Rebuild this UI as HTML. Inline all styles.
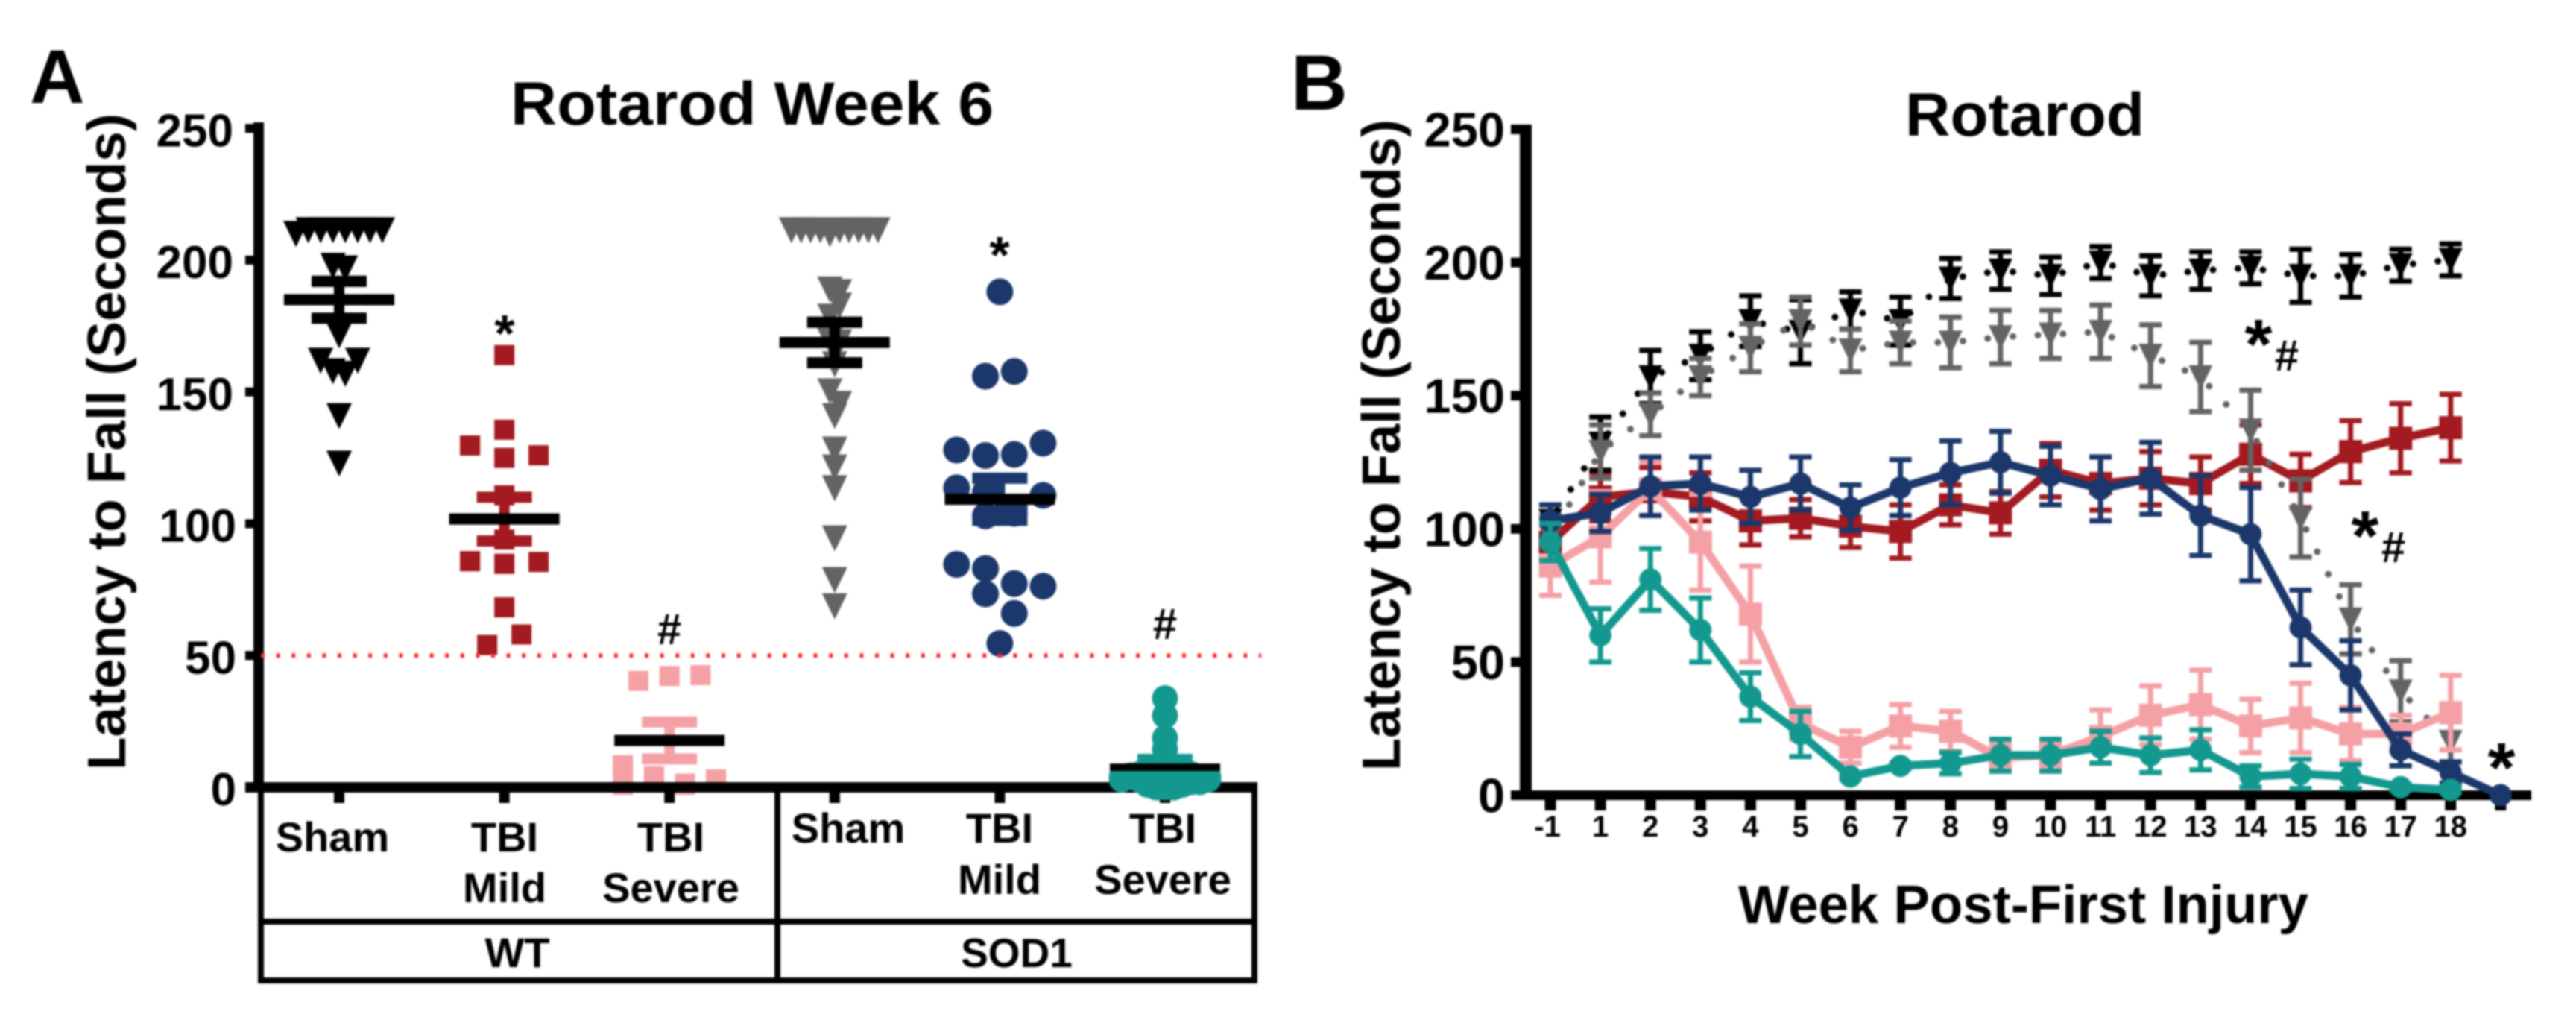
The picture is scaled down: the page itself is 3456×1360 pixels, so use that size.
<!DOCTYPE html>
<html lang="en">
<head>
<meta charset="utf-8">
<title>Rotarod charts</title>
<style>
html,body{margin:0;padding:0;background:#fff;width:3456px;height:1360px;overflow:hidden}
svg{display:block;filter:blur(1.3px)}
text{font-family:"Liberation Sans",Arial,sans-serif;font-weight:700;fill:#000}
</style>
</head>
<body>
<svg id="figure" xmlns="http://www.w3.org/2000/svg" width="3456" height="1360" viewBox="0 0 3456 1360">
  <rect x="0" y="0" width="3456" height="1360" fill="#fff"/>

  <text x="40" y="138" font-size="102">A</text>
  <text x="1732" y="147" font-size="105">B</text>

  <text x="685" y="167" font-size="82" textLength="648" lengthAdjust="spacingAndGlyphs">Rotarod Week 6</text>
  <text x="2556" y="182" font-size="82" textLength="321" lengthAdjust="spacingAndGlyphs">Rotarod</text>

  <text transform="translate(168 592.5) rotate(-90)" text-anchor="middle" font-size="72" textLength="881" lengthAdjust="spacingAndGlyphs">Latency to Fall (Seconds)</text>
  <text transform="translate(1878 597) rotate(-90)" text-anchor="middle" font-size="72" textLength="874" lengthAdjust="spacingAndGlyphs">Latency to Fall (Seconds)</text>
  <text x="2332" y="1238" font-size="72" textLength="765" lengthAdjust="spacingAndGlyphs">Week Post-First Injury</text>

  <g id="chartA"></g>

  <g id="tableA" stroke="#000" stroke-width="8" fill="none">
    <line x1="350" y1="1056" x2="350" y2="1315"/>
    <line x1="1043" y1="1056" x2="1043" y2="1315"/>
    <line x1="1683" y1="1056" x2="1683" y2="1315"/>
    <line x1="346" y1="1236" x2="1687" y2="1236"/>
    <line x1="346" y1="1315" x2="1687" y2="1315"/>
  </g>
  <g font-size="56" text-anchor="middle">
    <text x="446" y="1142" font-size="56" text-anchor="middle">Sham</text>
    <text x="677" y="1142" font-size="56" text-anchor="middle">TBI</text>
    <text x="677" y="1210" font-size="56" text-anchor="middle">Mild</text>
    <text x="900" y="1142" font-size="56" text-anchor="middle">TBI</text>
    <text x="900" y="1210" font-size="56" text-anchor="middle">Severe</text>
    <text x="1138" y="1130" font-size="56" text-anchor="middle">Sham</text>
    <text x="1341" y="1130" font-size="56" text-anchor="middle">TBI</text>
    <text x="1341" y="1199" font-size="56" text-anchor="middle">Mild</text>
    <text x="1560" y="1130" font-size="56" text-anchor="middle">TBI</text>
    <text x="1560" y="1199" font-size="56" text-anchor="middle">Severe</text>
    <text x="694" y="1297" font-size="56" text-anchor="middle">WT</text>
    <text x="1364" y="1297" font-size="55" text-anchor="middle">SOD1</text>
  </g>

  <g id="chartB"></g>

  <g text-anchor="middle">
    <text x="677" y="471" font-size="70" text-anchor="middle">*</text>
    <text x="1341" y="366" font-size="70" text-anchor="middle">*</text>
    <text x="898" y="864" font-size="58" text-anchor="middle">#</text>
    <text x="1563" y="857" font-size="58" text-anchor="middle">#</text>
    <text x="3030" y="494" font-size="95" text-anchor="middle">*</text>
    <text x="3068" y="497" font-size="58" text-anchor="middle">#</text>
    <text x="3173" y="751" font-size="95" text-anchor="middle">*</text>
    <text x="3211" y="754" font-size="58" text-anchor="middle">#</text>
    <text x="3356" y="1062" font-size="95" text-anchor="middle">*</text>
  </g>
</svg>

<script>
/* ---------- Panel A data (seconds); each inner array is one swarm row ---------- */
const yTicksA = [0, 50, 100, 150, 200, 250];
const thresholdA = 50;
const wtShamRows = [
  [210.1, 211.5, 211.5, 211.5, 211.5, 211.5, 211.5, 211.5],
  [198, 197], [171.6], [162, 162, 158, 157], [141], [123]
];
const wtMildRows = [
  [164], [135.7], [129.7, 126, 125], [110.8], [94],
  [85.8, 85.5, 84.8], [68.3], [54, 58]
];
const wtSevereRows = [
  [40.4, 42.6, 42.2], [8.4, 2.8, 4.2, 1.4], [1, 3, 3, 1]
];
const sodShamRows = [
  [211.5, 211.5, 211.5, 211.5, 211.5, 211.5, 211.5, 211.5, 210.1, 211.5],
  [189, 188], [178.7, 183], [169.5, 169], [160.6], [150.4, 145.6], [141],
  [128.3], [121.5], [113.6], [94.6], [78.8], [68.8]
];
const sodMildRows = [
  [188], [156, 157.8], [128, 130.6, 125.9, 126.3],
  [113.6, 110.8, 112, 106], [103, 104],
  [84.6, 76.3, 83, 77.3], [73.4, 66], [54.6]
];
const sodSevereRows = [
  [33.8], [27.2], [18.7], [14.5], [11],
  [3, 3, 4.5, 2, 3, 2, 1, 1, 0, 0, 0],
  [4, 4, 4, 4, 5, 5, 5, 5, 5, 5, 5]
];
const groupMeans = [185, 101.8, 17.8, 168.8, 109.3, 7.6];
const groupSems = [7, 8.3, 7, 7.7, 8, 3];

/* ---------- Panel B data (seconds) ---------- */
const weekLabels = ['-1','1','2','3','4','5','6','7','8','9','10','11','12','13','14','15','16','17','18',''];
const yTicksB = [0, 50, 100, 150, 200, 250];
const wtShamMean = [103,132,157,165,178,174,182,178,194,197,195,200,195,197,198,195,195,199,201];
const wtShamErr = [6,10,10,9,9.5,12,7,9,7.5,7,7,6,7.5,7,6,10,8,6,6];
const sodShamMean = [97,129,143,157,168,178,167,170,170,172,173,174,165,157,137,104,66,39,20];
const sodShamErr = [8,10,8,7,9,9,8,8,9.5,10,9,10,11.6,13,15,14.6,13,11.5,7.6];
const wtMildMean = [95,112,114,112,103,104,101,99,109,106,122,117,119,117,128,118,129,134,138];
const wtMildErr = [9,9,9,9,9,7,8,10,7.5,8,10,10,10,10,11,10,11.6,13,12.5];
const wtSevereMean = [86,97,115,95,68,27,18,26,24,14,15,22,30,34,26,29,23,23,31];
const wtSevereErr = [11,17,10,18,18,6,6,8,7.5,5,5,10,11,13,10,13,10,7,14];
const sodMildMean = [103,106,116,117,112,117,108,115.5,121,125,120,115,119,105,98,63,45,17,8.5,0];
const sodMildErr = [6,7,11,10,10,10,8.5,10.5,12,11.6,11,12,13.5,15,17.5,14,13,6,4,0];
const sodSevereMean = [95,60,81,62,37,23,7,11,12,15,15,18,15,17,7,8,7,3,2];
const sodSevereErr = [7,10,11.6,12,9,8.5,1,1,4,6,6,6,6.5,7.5,4,5.5,4.5,1,1];

/* ---------- helpers ---------- */
const NS = 'http://www.w3.org/2000/svg';
const COLORS = {black:'#000000', gray:'#636363', red:'#a31a20', pink:'#f5a0a5', navy:'#1b376b', teal:'#13988f'};

function add(parent, tag, attrs, name) {
  const el = document.createElementNS(NS, tag);
  for (const k in attrs) el.setAttribute(k, attrs[k]);
  
  
  parent.appendChild(el);
  return el;
}
function marker(parent, shape, cx, cy, size, color, name) {
  if (shape === 'circle') {
    return add(parent, 'circle', {cx: cx, cy: cy, r: size / 2, fill: color}, name);
  }
  if (shape === 'square') {
    return add(parent, 'rect', {x: cx - size / 2, y: cy - size / 2, width: size, height: size, fill: color}, name);
  }
  const h = size / 2;
  const pts = (cx - h) + ',' + (cy - h) + ' ' + (cx + h) + ',' + (cy - h) + ' ' + cx + ',' + (cy + h * 1.06);
  return add(parent, 'polygon', {points: pts, fill: color}, name);
}
function hline(parent, x1, x2, y, w, color, name) {
  return add(parent, 'line', {x1: x1, x2: x2, y1: y, y2: y, stroke: color, 'stroke-width': w}, name);
}
function vline(parent, x, y1, y2, w, color, name) {
  return add(parent, 'line', {x1: x, x2: x, y1: y1, y2: y2, stroke: color, 'stroke-width': w}, name);
}

/* ---------- Panel A ---------- */
const yA = v => 1056 - 3.535 * v;
const xA = i => 455 + 221.6 * i;
const chartA = document.getElementById('chartA');

const groupsA = [
  {key:'wt-sham', rows:wtShamRows, shape:'tri', size:34, color:COLORS.black, err:COLORS.black, spread:116},
  {key:'wt-mild', rows:wtMildRows, shape:'square', size:27, color:COLORS.red, err:COLORS.red, spread:116},
  {key:'wt-severe', rows:wtSevereRows, shape:'square', size:27, color:COLORS.pink, err:COLORS.pink, spread:125},
  {key:'sod1-sham', rows:sodShamRows, shape:'tri', size:34, color:COLORS.gray, err:COLORS.black, spread:116},
  {key:'sod1-mild', rows:sodMildRows, shape:'circle', size:36, color:COLORS.navy, err:COLORS.navy, spread:116},
  {key:'sod1-severe', rows:sodSevereRows, shape:'circle', size:35, color:COLORS.teal, err:COLORS.teal, spread:116}
];

function drawSwarm(group, index) {
  const g = add(chartA, 'g', {}, group.key + '-points');
  const longest = Math.max(...group.rows.map(r => r.length));
  const step = longest > 1 ? Math.min(46, group.spread / (longest - 1)) : 0;
  group.rows.forEach(row => {
    const n = row.length;
    row.forEach((v, k) => {
      const rank = Math.floor(k / 2);
      let off = 0;
      if (!(n % 2 === 1 && k === n - 1)) {
        off = ((n - 1) / 2 - rank) * step * (k % 2 === 0 ? -1 : 1);
      }
      marker(g, group.shape, xA(index) + off, yA(v), group.size, group.color, group.key + '-point');
    });
  });
}

/* pink squares sit beneath the axis */
drawSwarm(groupsA[2], 2);

/* axes */
const axisA = add(chartA, 'g', {}, 'chart-a-axes');
vline(axisA, 347, 164, 1063, 14, '#000', 'chart-a-y-axis-line');
hline(axisA, 329, 1687, 1056, 14, '#000', 'chart-a-x-axis-line');
yTicksA.forEach(t => {
  hline(axisA, 329, 341, yA(t), 12, '#000', 'chart-a-y-tick');
  const label = add(axisA, 'text', {x: t === 0 || t === 50 || t === 100 ? 317 : 313, y: yA(t) + 24, 'font-size': 62, 'text-anchor': 'end'}, 'chart-a-y-tick-label');
  label.textContent = String(t);
});
groupsA.forEach((g, i) => {
  vline(axisA, xA(i), 1056, 1077, 14, '#000', 'chart-a-x-tick');
});

[0, 1, 3, 4, 5].forEach(i => drawSwarm(groupsA[i], i));

/* mean and SEM bars */
groupsA.forEach((group, i) => {
  const g = add(chartA, 'g', {}, group.key + '-summary');
  const cx = xA(i);
  const m = groupMeans[i], s = groupSems[i];
  vline(g, cx, yA(m + s), yA(m - s), 14, group.err, group.key + '-sem-stem');
  hline(g, cx - 37, cx + 37, yA(m + s), 15, group.err, group.key + '-sem-cap-upper');
  hline(g, cx - 37, cx + 37, yA(m - s), 15, group.err, group.key + '-sem-cap-lower');
  hline(g, cx - 74, cx + 74, yA(m), i === 5 ? 10 : 15, '#000', group.key + '-mean-line');
});

/* threshold */
const thresholdLine = add(chartA, 'line', {x1: 350, x2: 1692, y1: yA(thresholdA), y2: yA(thresholdA), stroke: '#ff2a2a', 'stroke-width': 6, 'stroke-dasharray': '5 15.6'}, 'threshold-line-50-seconds');

/* ---------- Panel B ---------- */
const yB = v => 1066.5 - 3.572 * v;
const xB = i => 2080 + 67.1 * i;
const chartB = document.getElementById('chartB');

const axisB = add(chartB, 'g', {}, 'chart-b-axes');
vline(axisB, 2047, 167, 1073, 16, '#000', 'chart-b-y-axis-line');
hline(axisB, 2027, 3396, yB(0), 13, '#000', 'chart-b-x-axis-line');
yTicksB.forEach(t => {
  hline(axisB, 2027, 2040, yB(t), 13, '#000', 'chart-b-y-tick');
  const label = add(axisB, 'text', {x: 2019, y: yB(t) + 23, 'font-size': 65, 'text-anchor': 'end'}, 'chart-b-y-tick-label');
  label.textContent = String(t);
});
weekLabels.forEach((w, i) => {
  vline(axisB, xB(i), yB(0), 1087, 15, '#000', 'chart-b-x-tick');
  const label = add(axisB, 'text', {x: xB(i) - (i === 0 ? 4 : 0), y: 1122, 'font-size': 40, 'text-anchor': 'middle'}, 'chart-b-x-tick-label');
  label.textContent = w;
});

const seriesB = [
  {key:'wt-mild', mean:wtMildMean, err:wtMildErr, color:COLORS.red, shape:'square', size:31, dotted:false},
  {key:'wt-sham', mean:wtShamMean, err:wtShamErr, color:COLORS.black, shape:'tri', size:32, dotted:true},
  {key:'sod1-sham', mean:sodShamMean, err:sodShamErr, color:COLORS.gray, shape:'tri', size:32, dotted:true},
  {key:'wt-severe', mean:wtSevereMean, err:wtSevereErr, color:COLORS.pink, shape:'square', size:31, dotted:false},
  {key:'sod1-mild', mean:sodMildMean, err:sodMildErr, color:COLORS.navy, shape:'circle', size:30, dotted:false},
  {key:'sod1-severe', mean:sodSevereMean, err:sodSevereErr, color:COLORS.teal, shape:'circle', size:30, dotted:false}
];

seriesB.forEach(s => {
  const g = add(chartB, 'g', {}, s.key + '-series');
  if (s.dotted) {
    for (let i = 0; i < s.mean.length - 1; i++) {
      add(g, 'line', {
        x1: xB(i), y1: yB(s.mean[i]), x2: xB(i + 1), y2: yB(s.mean[i + 1]),
        stroke: s.color, 'stroke-width': 9, 'stroke-linecap': 'round',
        'stroke-dasharray': '0 33.5', 'stroke-dashoffset': -16.75
      }, s.key + '-dotted-segment');
    }
  } else {
    const pts = s.mean.map((v, i) => xB(i) + ',' + yB(v)).join(' ');
    add(g, 'polyline', {points: pts, fill: 'none', stroke: s.color, 'stroke-width': 11, 'stroke-linejoin': 'round'}, s.key + '-line');
  }
  s.mean.forEach((v, i) => {
    const e = s.err[i];
    if (!e) return;
    const cx = xB(i);
    vline(g, cx, yB(v + e), yB(v - e), 7, s.color, s.key + '-error-stem');
    hline(g, cx - 15, cx + 15, yB(v + e), 7, s.color, s.key + '-error-cap-upper');
    hline(g, cx - 15, cx + 15, yB(v - e), 7, s.color, s.key + '-error-cap-lower');
  });
  s.mean.forEach((v, i) => {
    marker(g, s.shape, xB(i), yB(v), s.size, s.color, s.key + '-marker');
  });
});
</script>
</body>
</html>
